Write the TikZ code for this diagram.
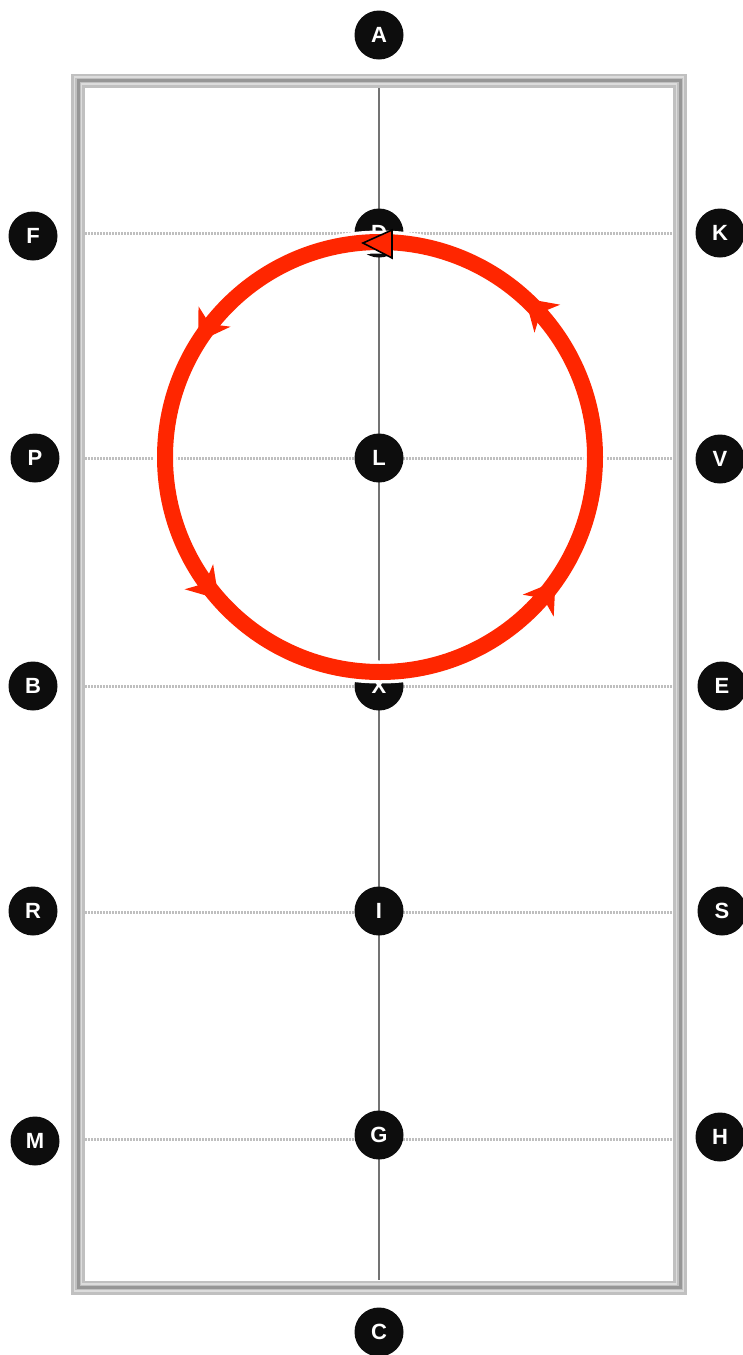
\documentclass[tikz,border=0pt]{standalone}
\usepackage{fontspec}
\setmainfont{Liberation Sans}
\usetikzlibrary{arrows.meta,decorations.markings}
\definecolor{arenared}{RGB}{255,38,0}
\definecolor{bandgray}{RGB}{192,192,192}
\definecolor{banddark}{RGB}{150,150,150}
\definecolor{bandlight}{RGB}{220,220,220}
\tikzset{redtip/.tip={Stealth[length=30pt,width=38pt,inset=9pt,line width=0pt]}}
\begin{document}
\begin{tikzpicture}[x=1pt,y=-1pt,
  letter/.style={circle,fill=black!95,minimum size=49pt,inner sep=0pt,text=white,
    font=\fontsize{22}{22}\selectfont\bfseries},
  gridline/.style={draw=black!25,line width=3pt,dash pattern=on 2pt off 1pt},
  centerline/.style={draw=black!55,line width=2pt},
]
\useasboundingbox[fill=white] (0,0) rectangle (743,1355);

% edge coordinates for the grid lines
\foreach \n/\y in {fk/233,pv/458,be/686,rs/912,mh/1139}{
  \coordinate (\n-l) at (85,\y);
  \coordinate (\n-r) at (672,\y);
}
\coordinate (top) at (379,87);
\coordinate (bot) at (379,1280);

\foreach \n in {fk,pv,be,rs,mh}{
  \draw[gridline] (\n-l) -- (\n-r);
}
\draw[centerline] (top) -- (bot);

% arena border
\draw[bandgray,line width=14pt] (78,80.5) rectangle (680,1287.5);
\draw[bandlight,line width=1.5pt] (74.5,77) rectangle (683.5,1291);
\draw[bandlight,line width=1.5pt] (81.5,84) rectangle (676.5,1284);
\draw[banddark,line width=3pt] (78,80.5) rectangle (680,1287.5);

% letters
\node[letter] (A) at (379,35) {A};
\node[letter] (C) at (379,1332) {C};
\node[letter] (F) at (33,236) {F};
\node[letter] (P) at (35,458) {P};
\node[letter] (B) at (33,686) {B};
\node[letter] (R) at (33,911) {R};
\node[letter] (M) at (35,1141) {M};
\node[letter] (K) at (720,233) {K};
\node[letter] (V) at (720,459) {V};
\node[letter] (E) at (722,686) {E};
\node[letter] (S) at (722,911) {S};
\node[letter] (H) at (720,1137) {H};
\node[letter] (D) at (379,233) {D};
\node[letter] (L) at (379,458) {L};
\node[letter] (X) at (379,686) {X};
\node[letter] (I) at (379,911) {I};
\node[letter] (G) at (379,1135) {G};

% circle figure
\draw[white,line width=23pt] (380,242) arc (270:-90:215);
\draw[arenared,line width=16pt,
  postaction={decorate},
  decoration={markings,
    mark=at position 0.16 with {\arrow{redtip}},
    mark=at position 0.365 with {\arrow{redtip}},
    mark=at position 0.652 with {\arrow{redtip}},
    mark=at position 0.882 with {\arrow{redtip}}}]
  (380,242) arc (270:-90:215);
\filldraw[fill=arenared,draw=black,line width=1.6pt,line join=miter]
  (363,243) -- (392,230) -- (392,258) -- cycle;
\end{tikzpicture}
\end{document}
